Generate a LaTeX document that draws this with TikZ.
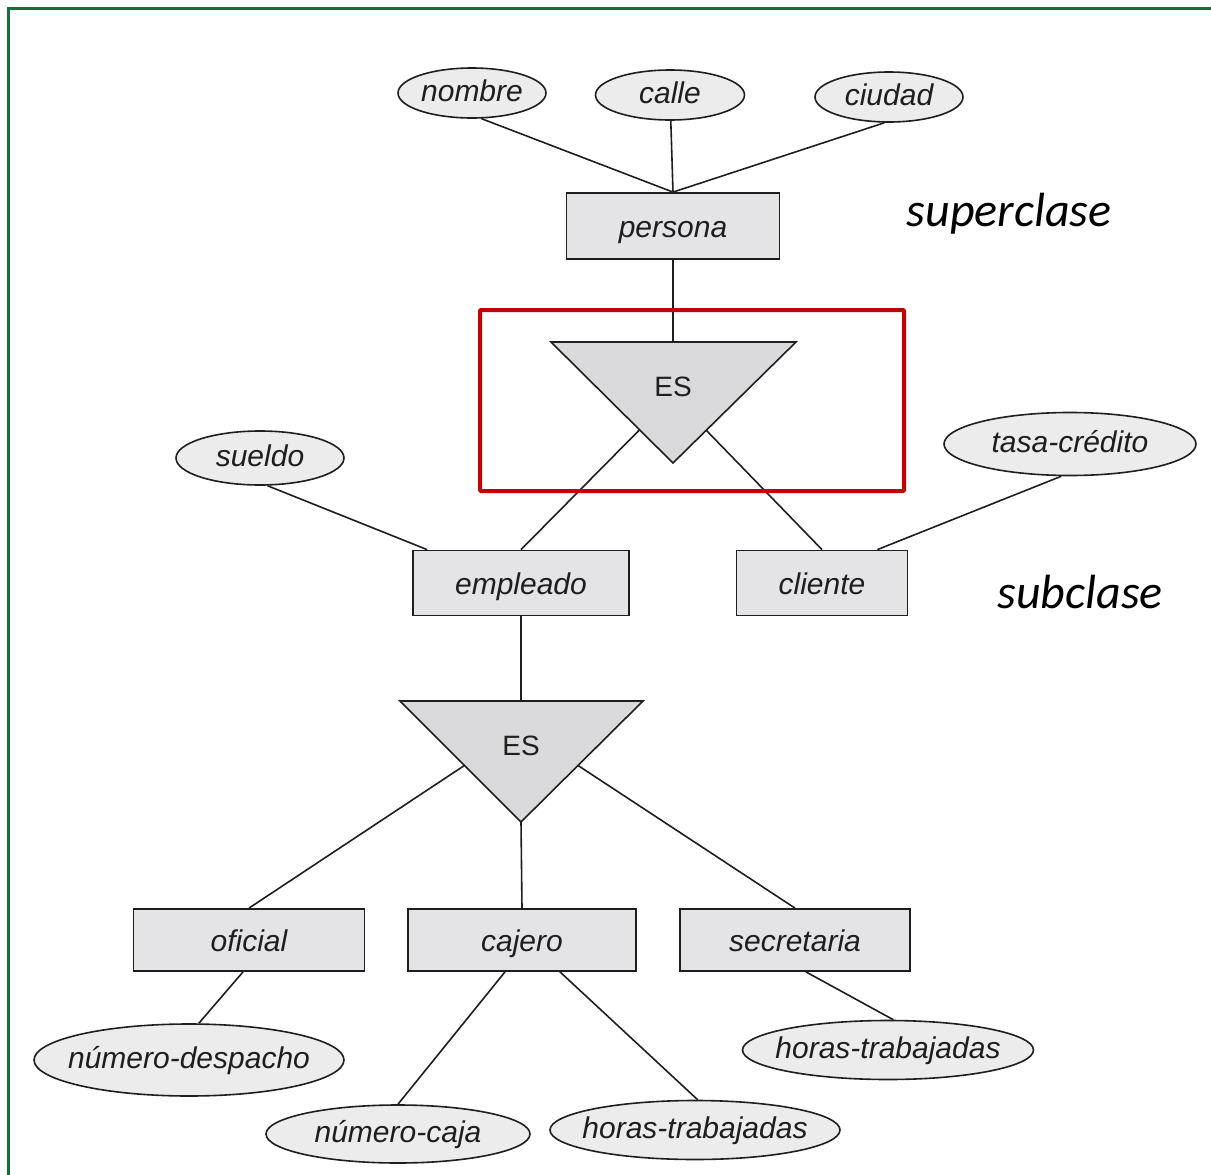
\documentclass[tikz,border=0pt]{standalone}
\usepackage{fontspec}
\setmainfont{Liberation Sans}
\newfontfamily\notefont{Carlito}
\usetikzlibrary{shapes.geometric}
\definecolor{entfill}{RGB}{228,228,230}
\definecolor{attfill}{RGB}{236,236,236}
\definecolor{isafill}{RGB}{218,218,220}
\definecolor{ink}{RGB}{30,30,30}
\definecolor{frame}{RGB}{22,110,60}
\definecolor{mark}{RGB}{196,0,0}
\begin{document}
\begin{tikzpicture}[x=1pt,y=-1pt,
  entity/.style={rectangle, draw=ink, line width=1.8pt, fill=entfill, inner sep=0pt,
    text height=22pt, text depth=0pt,
    font=\fontsize{30}{30}\selectfont\itshape, text=ink},
  attr/.style 2 args={ellipse, draw=ink, line width=1.6pt, fill=attfill, inner sep=0pt,
    label={[attrtext]center:#2}, minimum width=#1},
  attrtext/.style={font=\fontsize{30}{30}\selectfont\itshape, text=ink,
    text height=22pt, text depth=0pt, inner sep=0pt, yshift=3pt},
  isa/.style={draw=ink, line width=1.6pt, fill=isafill, line join=miter},
  isatext/.style={font=\fontsize{28}{28}\selectfont, text=ink},
  link/.style={draw=ink, line width=1.6pt},
  note/.style={font=\notefont\fontsize{48}{48}\selectfont\itshape, text=black},
  highlight/.style={draw=mark, line width=4pt, rounded corners=1pt}]

\useasboundingbox (0,0) rectangle (1211,1175);

% outer frame (only top and left edges are visible)
\draw[frame, line width=3pt] (8,1190) -- (8,8) -- (1225,8);

% superclass and its attributes
\node[entity, minimum width=213, minimum height=66] (persona) at (673,226) {persona};
\node[attr={148}{nombre}, minimum height=50] (nombre) at (472,93) {};
\node[attr={149}{calle}, minimum height=50] (calle) at (670,95) {};
\node[attr={148}{ciudad}, minimum height=50] (ciudad) at (889,97) {};

% first level subclasses
\node[entity, minimum width=216, minimum height=65] (empleado) at (521,583) {empleado};
\node[entity, minimum width=171, minimum height=65] (cliente) at (822,583) {cliente};
\node[attr={168}{sueldo}, minimum height=54] (sueldo) at (260,458) {};
\node[attr={252}{tasa-crédito}, minimum height=63] (tasa) at (1070,444) {};

% second level subclasses
\node[entity, minimum width=231, minimum height=62] (oficial) at (249,940) {oficial};
\node[entity, minimum width=228, minimum height=62] (cajero) at (522,940) {cajero};
\node[entity, minimum width=230, minimum height=62] (secretaria) at (795,940) {secretaria};
\node[attr={310}{número-despacho}, minimum height=72] (despacho) at (189,1060) {};
\node[attr={264}{número-caja}, minimum height=58] (caja) at (398,1134) {};
\node[attr={290}{horas-trabajadas}, minimum height=59] (horasc) at (695,1130) {};
\node[attr={291}{horas-trabajadas}, minimum height=59] (horass) at (888,1050) {};

% ISA triangle anchor points
\coordinate (t1top) at (673,342);
\coordinate (t1aim) at (673,396);
\coordinate (t2top) at (521,701);
\coordinate (t2aim) at (521,728);
\coordinate (t2tip) at (521,822);

% attribute links
\draw[link] (nombre.-70) -- (persona.north);
\draw[link] (calle) -- (persona.north);
\draw[link] (ciudad.-100) -- (persona.north);
\draw[link] (sueldo.-75) -- ([xshift=15pt]empleado.north west);
\draw[link] (tasa.-105) -- ([xshift=-31pt]cliente.north east);
\draw[link] ([xshift=-6pt]oficial.south) -- (despacho.75);
\draw[link] ([xshift=-17pt]cajero.south) -- (caja.north);
\draw[link] ([xshift=38pt]cajero.south) -- (horasc.85);
\draw[link] ([xshift=11pt]secretaria.south) -- (horass.80);

% specialization links
\draw[link] (persona) -- (t1top);
\draw[link] (empleado.north) -- (t1aim);
\draw[link] (cliente.north) -- (t1aim);
\draw[link] (empleado) -- (t2top);
\draw[link] (oficial.north) -- (t2aim);
\draw[link] (secretaria.north) -- (t2aim);
\draw[link] (t2tip) -- (cajero.north);

% ISA triangles
\draw[isa] (551,342) -- (796,342) -- (673,463) -- cycle;
\node[isatext] (es1) at (673,387) {ES};
\draw[isa] (400,701) -- (643,701) -- (t2tip) -- cycle;
\node[isatext] (es2) at (521,746) {ES};

% highlight box around the upper specialization
\draw[highlight] (480,310) rectangle (904,491);

% side notes
\node[note] (super) at (1009,214) {superclase};
\node[note] (sub) at (1080,592) {subclase};
\end{tikzpicture}
\end{document}
